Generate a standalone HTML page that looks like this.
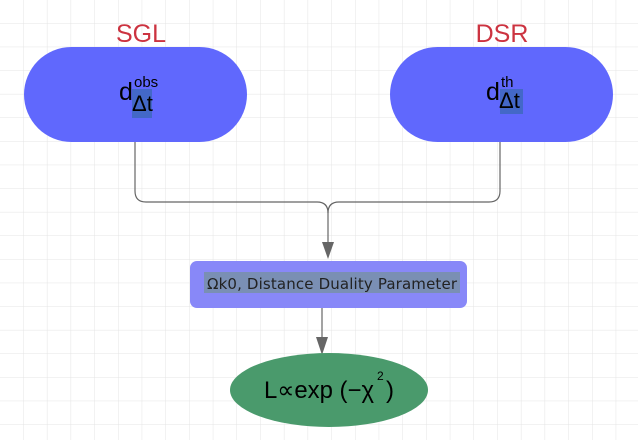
<!DOCTYPE html>
<html><head><style>
body{margin:0;width:638px;height:440px;overflow:hidden;background:#fff;font-family:"Liberation Sans",sans-serif}
</style></head><body>
<svg width="638" height="440" xmlns="http://www.w3.org/2000/svg">
<defs>
<pattern id="g" width="23.7" height="23.6" patternUnits="userSpaceOnUse" x="0" y="0">
<path d="M23.7 0V23.6M0 23.6H23.7" stroke="#e4e4e4" stroke-width="1" fill="none"/>
</pattern>
</defs>
<rect width="638" height="440" fill="url(#g)"/>
<text x="141" y="42" font-size="25" fill="#cc3340" text-anchor="middle" font-family="Liberation Sans">SGL</text>
<text x="502" y="42" font-size="25" fill="#cc3340" text-anchor="middle" font-family="Liberation Sans">DSR</text>
<rect x="24" y="47" width="223" height="95" rx="47.5" fill="#6068fd"/>
<rect x="390" y="47" width="223" height="95" rx="47.5" fill="#6068fd"/>
<rect x="132" y="89" width="20" height="29" fill="#4368c8"/>
<text x="119" y="100" font-size="25" fill="#000">d</text>
<text x="132" y="111" font-size="22" fill="#000">Δt</text>
<text x="134" y="87" font-size="15" fill="#000">obs</text>
<rect x="500" y="89" width="23" height="25" fill="#4368c8"/>
<text x="486" y="100" font-size="25" fill="#000">d</text>
<text x="499" y="108" font-size="22" fill="#000">Δt</text>
<text x="501" y="87" font-size="15" fill="#000">th</text>
<path d="M135 142V191Q135 202 146 202H317Q328 202 328 213V245" stroke="#666" stroke-width="1.2" fill="none"/>
<path d="M500 142V191Q500 202 489 202H339Q328 202 328 213" stroke="#666" stroke-width="1.2" fill="none"/>
<polygon points="322,242 334,242 328,259" fill="#666"/>
<rect x="190" y="261" width="277" height="47" rx="7" fill="#8888f8"/>
<rect x="204" y="272" width="256" height="21" fill="#7a8fb4"/>
<text x="207" y="289" font-size="15" fill="#222" font-family="DejaVu Sans" textLength="250">Ωk0, Distance Duality Parameter</text>
<path d="M322 308V341" stroke="#666" stroke-width="1.2"/>
<polygon points="316,337 328,337 322,355" fill="#666"/>
<ellipse cx="329" cy="390" rx="99" ry="37" fill="#4a9a6c"/>
<text x="264" y="398" font-size="24" fill="#000" font-family="Liberation Sans" textLength="110" lengthAdjust="spacingAndGlyphs">L∝exp (−χ</text>
<text x="377" y="380" font-size="12" fill="#000">2</text>
<text x="386" y="398" font-size="24" fill="#000" font-family="Liberation Sans">)</text>
</svg>
</body></html>
